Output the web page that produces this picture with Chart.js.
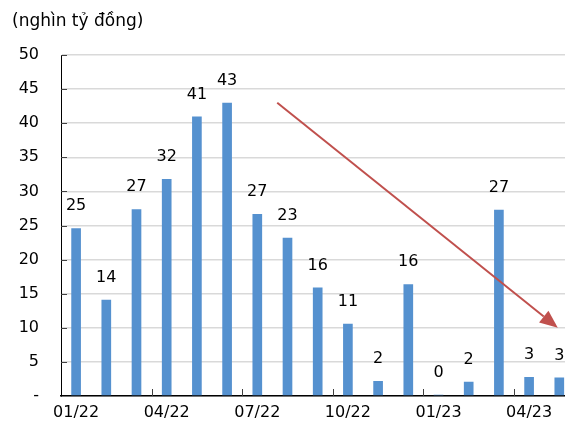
<!DOCTYPE html>
<html>
<head>
<meta charset="utf-8">
<script src="https://cdn.jsdelivr.net/npm/chart.js@4"></script>
<style>
  html, body { margin: 0; padding: 0; background: #fff; overflow: hidden; }
  #wrap { position: relative; width: 580px; height: 429px; }
</style>
</head>
<body>
<div id="wrap"><canvas id="barChart"></canvas></div>
<script>
let months = ["01/22", "02/22", "03/22", "04/22", "05/22", "06/22", "07/22", "08/22", "09/22",
              "10/22", "11/22", "12/22", "01/23", "02/23", "03/23", "04/23", "05/23"];
let values = [24.6, 14.1, 27.4, 31.8, 41.0, 43.0, 26.7, 23.2, 15.9, 10.6, 2.2, 16.4, 0.2, 2.1, 27.3, 2.8, 2.7];
let yTicks = [0, 5, 10, 15, 20, 25, 30, 35, 40, 45, 50];
// trend arrow, in data units (category index, value)
let arrowFrom = [6.66, 43.0];
let arrowTo = [15.95, 10.0];

let font = "DejaVu Sans";

let extras = {
    id: "extras",
    afterDatasetsDraw(chart) {
        let ctx = chart.ctx;
        let x = chart.scales.x, y = chart.scales.y;
        let area = chart.chartArea;
        ctx.save();

        // small inner tick marks
        ctx.strokeStyle = "#404040";
        ctx.lineWidth = 1;
        yTicks.forEach(v => {
            if (v === 0) return;
            let py = Math.round(y.getPixelForValue(v)) + 0.5;
            ctx.beginPath();
            ctx.moveTo(area.left, py);
            ctx.lineTo(area.left + 6, py);
            ctx.stroke();
        });
        for (let i = 3; i < months.length; i += 3) {
            let px = Math.round(x.getPixelForValue(i - 0.5)) + 0.5;
            ctx.beginPath();
            ctx.moveTo(px, area.bottom);
            ctx.lineTo(px, area.bottom - 7);
            ctx.stroke();
        }

        // value labels
        ctx.fillStyle = "#000";
        ctx.font = "16px '" + font + "'";
        ctx.textAlign = "center";
        ctx.textBaseline = "middle";
        chart.getDatasetMeta(0).data.forEach((bar, i) => {
            ctx.fillText(String(Math.round(values[i])), bar.x, bar.y - 22);
        });

        // trend arrow
        let x1 = x.getPixelForValue(arrowFrom[0]), y1 = y.getPixelForValue(arrowFrom[1]);
        let x2 = x.getPixelForValue(arrowTo[0]), y2 = y.getPixelForValue(arrowTo[1]);
        let ang = Math.atan2(y2 - y1, x2 - x1);
        let head = 18, half = 7.5;
        let bx = x2 - head * Math.cos(ang), by = y2 - head * Math.sin(ang);
        ctx.strokeStyle = "#C0504D";
        ctx.fillStyle = "#C0504D";
        ctx.lineWidth = 2;
        ctx.beginPath();
        ctx.moveTo(x1, y1);
        ctx.lineTo(bx, by);
        ctx.stroke();
        ctx.beginPath();
        ctx.moveTo(x2, y2);
        ctx.lineTo(bx + half * Math.sin(ang), by - half * Math.cos(ang));
        ctx.lineTo(bx - half * Math.sin(ang), by + half * Math.cos(ang));
        ctx.closePath();
        ctx.fill();

        // unit title
        ctx.fillStyle = "#000";
        ctx.textAlign = "left";
        ctx.font = "17px '" + font + "'";
        ctx.fillText("(nghìn tỷ đồng)", 12, 22);
        ctx.restore();
    }
};

new Chart("barChart", {
    type: "bar",
    data: {
        labels: months,
        datasets: [{
            data: values,
            backgroundColor: "#5591CF",
            barPercentage: 0.32,
            categoryPercentage: 1
        }]
    },
    options: {
        responsive: true,
        maintainAspectRatio: false,
        animation: false,
        layout: { padding: { top: 55, right: 5.6, left: 0, bottom: 0 } },
        plugins: {
            legend: { display: false },
            tooltip: { enabled: false }
        },
        scales: {
            x: {
                grid: { display: false, drawTicks: false },
                border: { color: "#000", width: 1.5 },
                ticks: {
                    autoSkip: false,
                    maxRotation: 0,
                    padding: 7,
                    color: "#000",
                    font: { family: font, size: 16 },
                    callback: (v, i) => i % 3 === 0 ? months[i] : ""
                },
                afterFit: s => { s.height = 33; }
            },
            y: {
                min: 0,
                max: 50,
                afterBuildTicks: s => { s.ticks = yTicks.map(v => ({ value: v })); },
                grid: { color: "#D9D9D9", lineWidth: 1.6, drawTicks: false },
                border: { color: "#000", width: 1 },
                ticks: {
                    padding: 22,
                    color: "#000",
                    font: { family: font, size: 16 },
                    callback: v => v === 0 ? "-" : v
                },
                afterFit: s => { s.width = 61; }
            }
        }
    },
    plugins: [extras]
});
</script>
</body>
</html>
